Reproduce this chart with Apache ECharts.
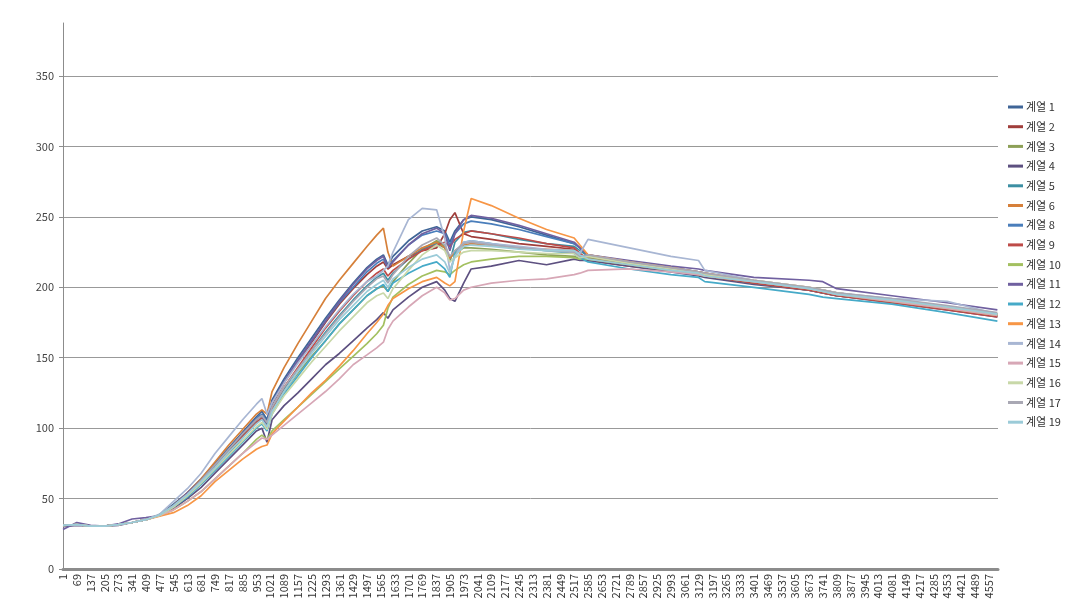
<!DOCTYPE html>
<html><head><meta charset="utf-8">
<script src="https://cdn.jsdelivr.net/npm/echarts@6/dist/echarts.min.js"></script>
<style>html,body{margin:0;padding:0;background:#fff}#c{width:1066px;height:608px}</style>
</head><body><div id="c"></div>
<script>
const seriesNames = ['계열 1','계열 2','계열 3','계열 4','계열 5','계열 6','계열 8','계열 9','계열 10','계열 11','계열 12','계열 13','계열 14','계열 15','계열 16','계열 17','계열 19'];
const seriesColors = ['#3F6597','#A03E3B','#8DA057','#5D5080','#3C8FA3','#D6803A','#4A7EBB','#BE4B48','#A3C060','#7060A0','#46AAC8','#F79646','#A8B6D3','#D7A7B6','#C8D8A8','#A9A8B4','#9BCBD8'];
const yTicks = [0,50,100,150,200,250,300,350];
const xPositions = [1,69,137,205,273,341,409,477,545,613,681,749,817,885,953,980,1005,1030,1089,1157,1225,1293,1361,1429,1497,1545,1578,1600,1625,1701,1769,1840,1880,1905,1930,1973,2010,2109,2245,2381,2517,2545,2585,2789,2993,3129,3160,3401,3673,3741,3809,4081,4353,4600];

const s1  = [31,31.5,30.5,30.5,31.5,33,35,38.5,46,54,64,75,86,97,108,112,106,120,135,150,164,178,191,203,214,220,223,216,222,233,240,243,240,232,240,248,250,248,243,237,231,228,222,218,214,211,210,204,199,197,195,191,186,181];
const s2  = [31,31.5,30.5,30.5,31.5,33,35,38.5,45,53,62,73,84,95,106,109,103,117,132,147,161,175,188,199,209,215,218,213,216,222,226,228,238,248,253,238,236,234,231,229,227,224,219,215,212,209,208,203,198,196,194,190,185,180];
const s3  = [31,31.5,30.5,30.5,31.5,33,35,38,45,53,62,73,84,94,104,107,102,113,126,139,151,162,174,184,194,199,201,197,204,217,227,233,229,221,224,228,228,227,225,223,222,220,221,216,212,209,208,204,199,197,195,190,185,180];
const s4  = [30,31,30.5,30.5,31,33,35,38,43,50,58,68,78,88,98,100,90,106,116,125,135,145,153,162,171,177,182,178,184,193,200,204,198,192,190,203,213,215,219,216,220,219,219,215,211,208,207,202,198,196,194,189,184,179];
const s5  = [31,31.5,30.5,30.5,31.5,33,35,38.5,44,52,61,71,82,93,104,107,102,114,128,142,155,168,180,191,201,207,210,205,210,220,227,231,228,218,232,239,240,238,234,231,229,226,222,217,213,210,208,203,198,196,194,190,185,180];
const s6  = [31,31.5,30.5,30.5,31.5,33,35,38.5,45,54,64,76,88,99,110,113,110,126,143,160,176,192,205,217,229,237,242,225,215,222,228,232,228,220,226,230,231,230,228,227,226,222,222,217,213,210,209,204,199,197,195,190,185,180];
const s8  = [31,31.5,30.5,30.5,31.5,33,35,38.5,45,53,63,74,85,96,107,110,104,118,133,148,162,176,189,200,211,217,220,214,219,230,237,240,238,230,238,245,247,245,241,236,231,228,223,218,214,211,210,204,199,198,196,191,186,181];
const s9  = [31,31.5,30.5,30.5,31.5,33,35,38.5,44,52,61,72,83,94,104,107,101,114,129,143,157,171,183,194,204,210,213,208,212,220,226,230,232,229,234,238,240,238,235,231,228,224,220,216,212,209,208,203,198,196,194,189,184,179];
const s10 = [31,31.5,30.5,30.5,31.5,33,35,38,42,48,55,64,73,82,92,95,92,98,106,115,124,133,142,151,160,167,173,185,193,202,208,212,211,209,212,216,218,220,222,222,221,220,220,216,212,209,208,204,199,197,195,190,185,180];
const s11 = [28,33,31,30.5,32,35.5,36.5,38,45,54,63,74,85,96,106,109,100,118,133,148,162,176,190,202,213,219,222,214,218,230,238,242,238,226,238,248,251,249,244,238,232,228,223,219,215,213,212,207,205,204,199,194,189,184];
const s12 = [31,31.5,30.5,30.5,31.5,33,35,38.5,44,51,60,70,80,90,100,103,98,110,124,137,150,162,174,184,194,199,202,197,203,210,215,218,213,207,225,232,233,231,228,226,224,221,218,213,209,207,204,200,195,193,192,188,182,176];
const s13 = [31,31.5,30.5,30.5,31.5,33,35,37.5,40,45,52,62,70,78,85,87,88,96,105,115,125,134,144,155,167,175,181,187,192,199,204,207,203,201,204,240,263,258,249,241,235,230,223,218,214,211,210,205,200,198,196,191,186,181];
const s14 = [31,31.5,30.5,30.5,31.5,33,35,39,48,57,68,82,94,106,117,121,110,118,132,146,159,172,184,195,204,208,212,215,225,248,256,255,235,212,222,232,233,231,229,227,226,224,234,228,222,219,212,205,200,198,196,192,190,181];
const s15 = [31,31.5,30.5,30.5,31.5,33,35,38,42,48,55,64,73,82,90,93,92,95,102,110,118,126,135,145,152,157,161,170,176,186,194,200,196,191,192,198,200,203,205,206,209,210,212,213,211,209,208,204,199,197,195,190,185,180];
const s16 = [31,31.5,30.5,30.5,31.5,33,35,38,44,52,61,71,81,91,101,104,99,110,123,135,147,158,169,179,189,194,196,192,199,212,223,230,226,218,221,225,226,226,225,224,224,221,222,217,213,210,209,205,200,198,196,191,186,181];
const s17 = [31,31.5,30.5,30.5,31.5,33,35,38.5,45,53,63,74,85,96,106,109,104,115,129,142,155,167,179,190,200,206,208,203,209,222,230,235,230,222,226,231,232,230,228,226,225,222,223,218,214,211,210,205,200,198,196,192,187,182];
const s19 = [31,31.5,30.5,30.5,31.5,33,35,38.5,45,53,62,72,83,93,103,106,101,112,126,140,153,165,177,187,197,202,205,200,206,214,220,223,218,210,222,229,230,229,227,226,226,223,220,216,212,210,208,204,199,197,195,191,186,181];

const allValues = [s1,s2,s3,s4,s5,s6,s8,s9,s10,s11,s12,s13,s14,s15,s16,s17,s19];

const font = "'Noto Sans CJK KR', 'Noto Sans', sans-serif";
const chart = echarts.init(document.getElementById('c'), null, {renderer: 'canvas'});
const series = allValues.map((vals, i) => ({
  name: seriesNames[i],
  type: 'line',
  xAxisIndex: 0, yAxisIndex: 0,
  data: xPositions.map((x, j) => [x, vals[j]]),
  showSymbol: false,
  symbol: 'none',
  lineStyle: {width: 1.7, color: seriesColors[i]},
  itemStyle: {color: seriesColors[i]},
  z: 2 + i
}));

chart.setOption({
  animation: false,
  backgroundColor: '#fff',
  color: seriesColors,
  textStyle: {fontFamily: font},
  grid: [
    {left: 63, right: 68, top: 76, bottom: 39, containLabel: false},
    {left: 63, right: 68, top: 23, bottom: 39, containLabel: false}
  ],
  legend: {
    orient: 'vertical',
    left: 1008, top: 100,
    icon: 'rect',
    itemWidth: 15, itemHeight: 3,
    itemGap: 5.7,
    padding: 0,
    textStyle: {fontSize: 11, color: '#333', fontFamily: font, lineHeight: 14, padding: [0, 0, 0, -2]},
    data: seriesNames
  },
  xAxis: [
    {
      type: 'value', gridIndex: 0,
      min: 1, max: 4603, interval: 68,
      axisLine: {show: true, onZero: false, lineStyle: {color: '#8c8c8c', width: 3}},
      axisTick: {show: false},
      splitLine: {show: false},
      axisLabel: {rotate: 90, fontSize: 11, color: '#333', margin: 5, showMaxLabel: false, fontFamily: font,
        formatter: v => String(v)}
    },
    {type: 'value', gridIndex: 1, show: false, min: 0, max: 1}
  ],
  yAxis: [
    {
      type: 'value', gridIndex: 0,
      min: 0, max: 350, interval: 50,
      axisLine: {show: true, lineStyle: {color: '#8c8c8c', width: 1}},
      axisTick: {show: true, length: 4, lineStyle: {color: '#8c8c8c'}},
      splitLine: {show: true, lineStyle: {color: '#999', width: 1}},
      axisLabel: {fontSize: 11, color: '#444', margin: 9, fontFamily: font,
        formatter: v => yTicks.includes(v) ? String(v) : ''}
    },
    {
      type: 'value', gridIndex: 1, min: 0, max: 1,
      axisLine: {show: true, lineStyle: {color: '#8c8c8c', width: 1}},
      axisTick: {show: false}, axisLabel: {show: false}, splitLine: {show: false}
    }
  ],
  series: series
});
</script>
</body></html>
